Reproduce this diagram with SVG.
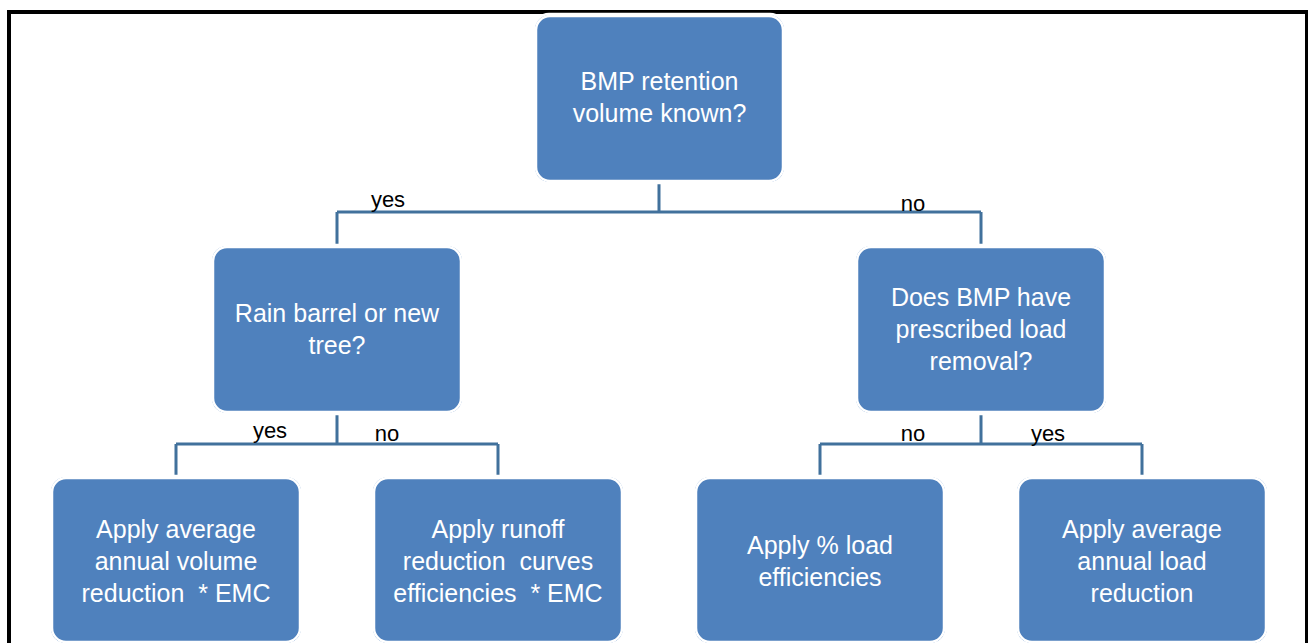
<svg xmlns="http://www.w3.org/2000/svg" width="1308" height="643" viewBox="0 0 1308 643">
<style>
.node rect{fill:#4F81BD;stroke:#ffffff;stroke-width:2.5}
.halo{fill:none;stroke:#d0d0d0;stroke-width:1}
.nt{font-family:"Liberation Sans",Arial,sans-serif;font-size:25px;fill:#ffffff;text-anchor:middle;white-space:pre}
.lbl{font-family:"Liberation Sans",Arial,sans-serif;font-size:22px;fill:#000000;text-anchor:middle}
.conn path{fill:none;stroke:#41719C;stroke-width:3}
</style>
<rect width="1308" height="643" fill="#ffffff"/>
<path d="M9,643 V12 H1307 V643" fill="none" stroke="#000000" stroke-width="4"/>
<g class="conn" id="connectors">
<path d="M659,180 V212 M337,212 H981 M337,212 V247 M981,212 V247"/>
<path d="M337,412 V444 M176,444 H498 M176,444 V478 M498,444 V478"/>
<path d="M981,412 V444 M820,444 H1142 M820,444 V478 M1142,444 V478"/>
</g>
<g id="labels">
<text class="lbl" x="388" y="207">yes</text>
<text class="lbl" x="913" y="211">no</text>
<text class="lbl" x="270" y="438">yes</text>
<text class="lbl" x="387" y="441">no</text>
<text class="lbl" x="913" y="441">no</text>
<text class="lbl" x="1048" y="441">yes</text>
</g>
<g class="node" id="n-root">
<rect class="halo" x="534" y="14" width="251" height="169" rx="15"/>
<rect x="536" y="16" width="247" height="165" rx="14"/>
<text class="nt" x="659.5" y="90">BMP retention</text>
<text class="nt" x="659.5" y="122">volume known?</text>
</g>
<g class="node" id="n-rain">
<rect class="halo" x="211" y="245" width="252" height="169" rx="15"/>
<rect x="213" y="247" width="248" height="165" rx="14"/>
<text class="nt" x="337" y="322">Rain barrel or new</text>
<text class="nt" x="337" y="354">tree?</text>
</g>
<g class="node" id="n-does">
<rect class="halo" x="855" y="245" width="252" height="169" rx="15"/>
<rect x="857" y="247" width="248" height="165" rx="14"/>
<text class="nt" x="981" y="306">Does BMP have</text>
<text class="nt" x="981" y="338">prescribed load</text>
<text class="nt" x="981" y="370">removal?</text>
</g>
<g class="node" id="n-vol">
<rect class="halo" x="50" y="476" width="252" height="168" rx="15"/>
<rect x="52" y="478" width="248" height="164" rx="14"/>
<text class="nt" x="176" y="538">Apply average</text>
<text class="nt" x="176" y="570">annual volume</text>
<text class="nt" x="176" y="602">reduction&#160; * EMC</text>
</g>
<g class="node" id="n-runoff">
<rect class="halo" x="372" y="476" width="252" height="168" rx="15"/>
<rect x="374" y="478" width="248" height="164" rx="14"/>
<text class="nt" x="498" y="538">Apply runoff</text>
<text class="nt" x="498" y="570">reduction&#160; curves</text>
<text class="nt" x="498" y="602">efficiencies&#160; * EMC</text>
</g>
<g class="node" id="n-pct">
<rect class="halo" x="694" y="476" width="252" height="168" rx="15"/>
<rect x="696" y="478" width="248" height="164" rx="14"/>
<text class="nt" x="820" y="554">Apply % load</text>
<text class="nt" x="820" y="586">efficiencies</text>
</g>
<g class="node" id="n-load">
<rect class="halo" x="1016" y="476" width="252" height="168" rx="15"/>
<rect x="1018" y="478" width="248" height="164" rx="14"/>
<text class="nt" x="1142" y="538">Apply average</text>
<text class="nt" x="1142" y="570">annual load</text>
<text class="nt" x="1142" y="602">reduction</text>
</g>
</svg>
